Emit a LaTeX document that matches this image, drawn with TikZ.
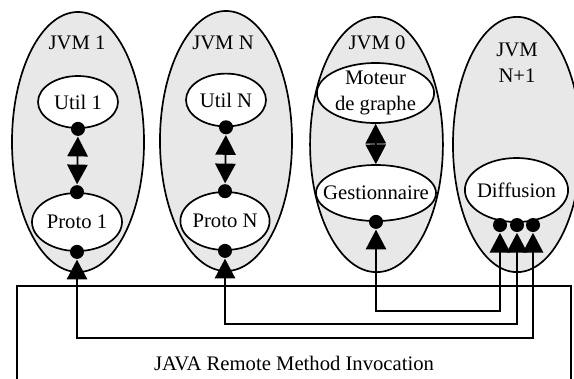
\documentclass[tikz,border=0pt]{standalone}
\usepackage{fontspec}
\setmainfont{Liberation Serif}
\usetikzlibrary{arrows.meta, shapes.geometric}
\definecolor{jvmgrey}{HTML}{E8E8E8}
\tikzset{
  every picture/.style={font=\fontsize{14.7}{18.5}\selectfont, line width=1.2pt},
  jvm/.style={ellipse, draw, fill=jvmgrey, inner sep=0pt},
  comp/.style={ellipse, draw, fill=white, inner sep=0pt, label={[align=center]center:#1}},
  dot/.style={circle, fill=black, inner sep=0pt, minimum size=0.35cm},
  title/.style={align=center, inner sep=1pt},
  link/.style={{Triangle[length=14pt, width=14.5pt]}-{Triangle[length=14pt, width=14.5pt]}, line width=1.2pt},
}

\begin{document}
\begin{tikzpicture}[x=0.025cm, y=-0.025cm]
  \useasboundingbox (0,0) rectangle (574,378);
  \clip (0,0) rectangle (574,378);
  % machines virtuelles
  \node[jvm, minimum width=3.3cm, minimum height=6.5cm] (jvm1) at (78,142) {};
  \node[jvm, minimum width=3.3cm, minimum height=6.5cm] (jvmn) at (226,141) {};
  \node[jvm, minimum width=3.32cm, minimum height=6.38cm] (jvm0) at (376.5,144.5) {};
  \node[jvm, minimum width=3.2cm, minimum height=6.38cm] (jvmn1) at (517,144.5) {};
  \node[title] (t1) at (77,43) {JVM 1};
  \node[title] (tn) at (223,43) {JVM N};
  \node[title] (t0) at (377,43) {JVM 0};
  \node[title] (tn1) at (517,63) {JVM\\N+1};
  % composants
  \node[comp={Util 1}, minimum width=2cm, minimum height=1.3cm] (util1) at (78,102) {};
  \node[comp={Util N}, minimum width=2cm, minimum height=1.32cm] (utiln) at (226,100) {};
  \node[comp={Proto 1}, minimum width=2.25cm, minimum height=1.45cm] (proto1) at (77,222) {};
  \node[comp={Proto N}, minimum width=2.23cm, minimum height=1.45cm] (proton) at (225,221) {};
  \node[comp={Moteur\\de graphe}, minimum width=2.93cm, minimum height=1.5cm] (moteur) at (375.5,93) {};
  \node[comp={Gestionnaire}, minimum width=3cm, minimum height=1.4cm] (gest) at (376,193) {};
  \node[comp={Diffusion}, minimum width=2.58cm, minimum height=1.6cm] (diff) at (516.5,190) {};
  % points de connexion
  \node[dot] (u1dot) at (util1.south) {};
  \node[dot] (p1top) at (proto1.north) {};
  \node[dot] (p1dot) at (proto1.south) {};
  \node[dot] (undot) at (utiln.south) {};
  \node[dot] (pntop) at (proton.north) {};
  \node[dot] (pndot) at (proton.south) {};
  \node[dot] (gdot) at (gest.south) {};
  \node[dot] (d1) at (500,225) {};
  \node[dot] (d2) at (517,225) {};
  \node[dot] (d3) at (533,225) {};
  % bus RMI
  \node[draw, rectangle, inner sep=0pt, minimum width=13.85cm, minimum height=3.85cm] (rmi) at (294,363) {JAVA Remote Method Invocation};
  \coordinate (lvl1) at (0,311);
  \coordinate (lvl2) at (0,324);
  \coordinate (lvl3) at (0,338);
  \draw[link] (u1dot) -- (p1top);
  \draw[link] (undot) -- (pntop);
  \draw[link] (moteur) -- (gest);
  \draw[link] (gdot) -- (gdot |- lvl1) -| (d1);
  \draw[link] (pndot) -- (pndot |- lvl2) -| (d2);
  \draw[link] (p1dot) -- (p1dot |- lvl3) -| (d3);
\end{tikzpicture}
\end{document}
